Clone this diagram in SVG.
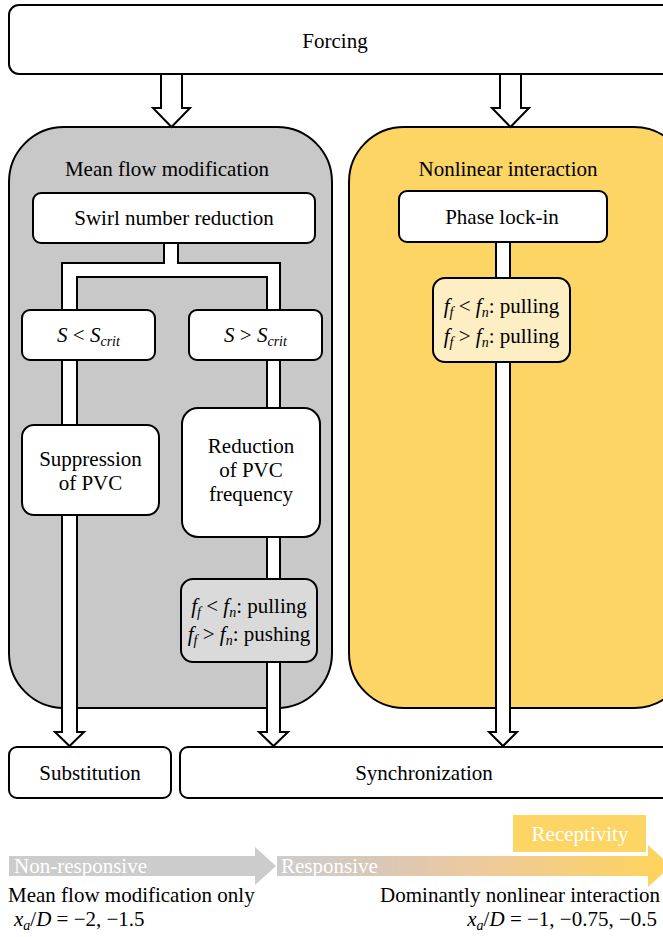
<svg xmlns="http://www.w3.org/2000/svg" width="663" height="937" viewBox="0 0 663 937" font-family="Liberation Serif, serif" font-size="21">
<defs>
<style>
.c{text-anchor:middle}
.box{fill:#fff;stroke:#000;stroke-width:2}
.conn{fill:#fff;stroke:#000;stroke-width:2;stroke-linejoin:miter}
.i{font-style:italic}
.w{fill:#fff}
</style>
<linearGradient id="gr" x1="277" y1="0" x2="663" y2="0" gradientUnits="userSpaceOnUse">
<stop offset="0" stop-color="#cdcdcd"/>
<stop offset="0.25" stop-color="#d8c8b8"/>
<stop offset="0.5" stop-color="#ecc9a0"/>
<stop offset="1" stop-color="#fdd45c"/>
</linearGradient>
</defs>
<rect width="663" height="937" fill="#fff"/>

<g id="panel-mean-flow">
<rect x="9" y="127" width="323" height="581" rx="55" fill="#c8c8c8" stroke="#000" stroke-width="2"/>
<text class="c" x="167" y="176">Mean flow modification</text>
</g>
<g id="panel-nonlinear">
<rect x="349" y="127" width="340" height="581" rx="55" fill="#fdd565" stroke="#000" stroke-width="2"/>
<text class="c" x="508" y="176">Nonlinear interaction</text>
</g>

<g id="connectors">
<path class="conn" d="M161,74 V108 H153 L171.5,127 L190,108 H182 V74"/>
<path class="conn" d="M500,74 V108 H492 L510.5,127 L529,108 H521 V74"/>
<path class="conn" d="M164,243 V263 H62 V732 H55 L69.5,746 L84,732 H77 V277 H267 V732 H259 L273.5,746 L288,732 H280 V263 H178 V243"/>
<path class="conn" d="M496,242 V732 H489 L503,746 L517,732 H510 V242"/>
</g>

<g id="forcing">
<rect class="box" x="9" y="5" width="680" height="69" rx="10"/>
<text class="c" x="335" y="48">Forcing</text>
</g>
<g id="swirl">
<rect class="box" x="33" y="193" width="282" height="50" rx="8"/>
<text class="c" x="174" y="225">Swirl number reduction</text>
</g>
<g id="s-less">
<rect class="box" x="22" y="310" width="133" height="50" rx="8"/>
<text class="c" x="88.5" y="342"><tspan class="i">S</tspan> &lt; <tspan class="i">S</tspan><tspan class="i" font-size="14" dy="4">crit</tspan></text>
</g>
<g id="s-greater">
<rect class="box" x="189" y="310" width="133" height="50" rx="8"/>
<text class="c" x="255.5" y="342"><tspan class="i">S</tspan> &gt; <tspan class="i">S</tspan><tspan class="i" font-size="14" dy="4">crit</tspan></text>
</g>
<g id="suppression">
<rect class="box" x="22" y="425" width="137" height="90" rx="12"/>
<text class="c" x="90.5" y="466">Suppression</text>
<text class="c" x="90.5" y="490">of PVC</text>
</g>
<g id="reduction">
<rect class="box" x="182" y="408" width="138" height="129" rx="16"/>
<text class="c" x="251" y="453">Reduction</text>
<text class="c" x="251" y="477">of PVC</text>
<text class="c" x="251" y="501">frequency</text>
</g>
<g id="pull-push">
<rect x="181" y="579" width="136" height="83" rx="12" fill="#dadada" stroke="#000" stroke-width="2"/>
<text class="c" x="249" y="613"><tspan class="i">f</tspan><tspan class="i" font-size="14" dy="4">f</tspan><tspan dy="-4"> &lt; </tspan><tspan class="i">f</tspan><tspan class="i" font-size="14" dy="4">n</tspan><tspan dy="-4">: pulling</tspan></text>
<text class="c" x="249" y="641"><tspan class="i">f</tspan><tspan class="i" font-size="14" dy="4">f</tspan><tspan dy="-4"> &gt; </tspan><tspan class="i">f</tspan><tspan class="i" font-size="14" dy="4">n</tspan><tspan dy="-4">: pushing</tspan></text>
</g>
<g id="phase-lock">
<rect class="box" x="399" y="191" width="208" height="51" rx="8"/>
<text class="c" x="502" y="224">Phase lock-in</text>
</g>
<g id="pull-pull">
<rect x="433" y="278" width="137" height="84" rx="12" fill="#fdeec3" stroke="#000" stroke-width="2"/>
<text class="c" x="501.5" y="313"><tspan class="i">f</tspan><tspan class="i" font-size="14" dy="4">f</tspan><tspan dy="-4"> &lt; </tspan><tspan class="i">f</tspan><tspan class="i" font-size="14" dy="4">n</tspan><tspan dy="-4">: pulling</tspan></text>
<text class="c" x="501.5" y="343"><tspan class="i">f</tspan><tspan class="i" font-size="14" dy="4">f</tspan><tspan dy="-4"> &gt; </tspan><tspan class="i">f</tspan><tspan class="i" font-size="14" dy="4">n</tspan><tspan dy="-4">: pulling</tspan></text>
</g>
<g id="substitution">
<rect class="box" x="9" y="747" width="162" height="51" rx="8"/>
<text class="c" x="90" y="780">Substitution</text>
</g>
<g id="synchronization">
<rect class="box" x="180" y="747" width="510" height="51" rx="8"/>
<text class="c" x="424" y="780">Synchronization</text>
</g>

<g id="scale">
<rect x="513" y="815" width="133" height="37" fill="#fdd565"/>
<text class="c w" x="580" y="841">Receptivity</text>
<path d="M9,856 H255 V847 L276,866 L255,885 V876 H9 Z" fill="#cccccc"/>
<path d="M277,856 H648 V845 L671,866 L648,887 V876 H277 Z" fill="url(#gr)"/>
<text class="w" x="14" y="873">Non-responsive</text>
<text class="w" x="281" y="873">Responsive</text>
<text x="8" y="902">Mean flow modification only</text>
<text x="14" y="926"><tspan class="i">x</tspan><tspan class="i" font-size="14" dy="4">a</tspan><tspan dy="-4">/</tspan><tspan class="i">D</tspan> = −2, −1.5</text>
<text x="660" y="902" text-anchor="end">Dominantly nonlinear interaction</text>
<text x="657" y="926" text-anchor="end"><tspan class="i">x</tspan><tspan class="i" font-size="14" dy="4">a</tspan><tspan dy="-4">/</tspan><tspan class="i">D</tspan> = −1, −0.75, −0.5</text>
</g>
</svg>
